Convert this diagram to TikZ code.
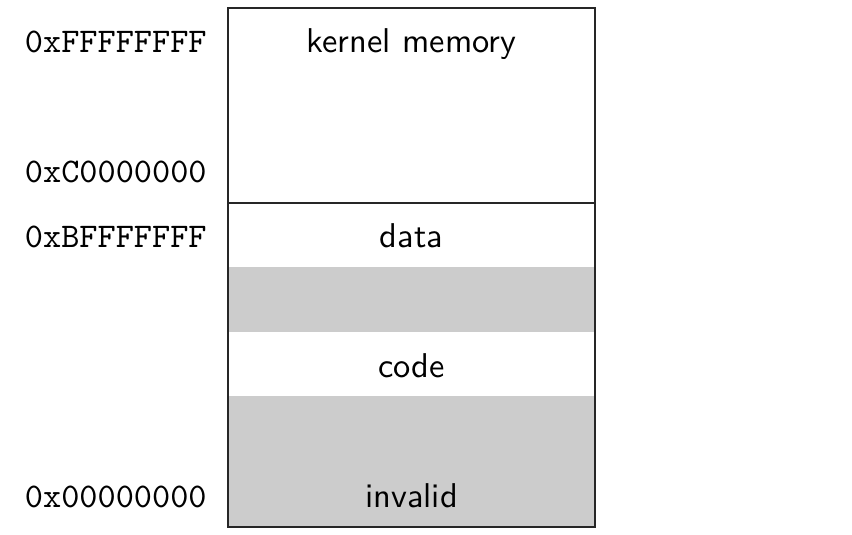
\documentclass[tikz,border=0pt]{standalone}
\usepackage{fontspec}
\usepackage{tikz}
\newfontfamily\regionfont{lmsans10-regular.otf}
\newfontfamily\addrfont{lmmono10-regular.otf}
\definecolor{bandgray}{HTML}{CCCCCC}
\tikzset{
  addr/.style={anchor=base east, inner sep=0pt, font=\fontsize{17.3}{20}\addrfont},
  region/.style={anchor=base, inner sep=0pt, font=\fontsize{17.2}{20}\regionfont},
  frame/.style={draw=black!85, line width=0.6pt}
}
\begin{document}
\begin{tikzpicture}[x=0.5pt,y=-0.5pt]
\useasboundingbox (0,0) rectangle (852,535);
% gray bands
\fill[bandgray] (228,267) rectangle (595,332);
\fill[bandgray] (228,396) rectangle (595,527);
% frame
\draw[frame] (228,8) rectangle (595,527);
\draw[frame] (228,203) -- (595,203);
% region labels
\node[region] (kern) at (411.5,53) {kernel memory};
\node[region] (data) at (411.5,248) {data};
\node[region] (code) at (411.5,377) {code};
\node[region] (inv) at (411.5,507) {invalid};
% address labels
\node[addr] (a1) at (207,53) {0xFFFFFFFF};
\node[addr] (a2) at (207,183) {0xC0000000};
\node[addr] (a3) at (207,248) {0xBFFFFFFF};
\node[addr] (a4) at (207,507) {0x00000000};
\end{tikzpicture}
\end{document}
